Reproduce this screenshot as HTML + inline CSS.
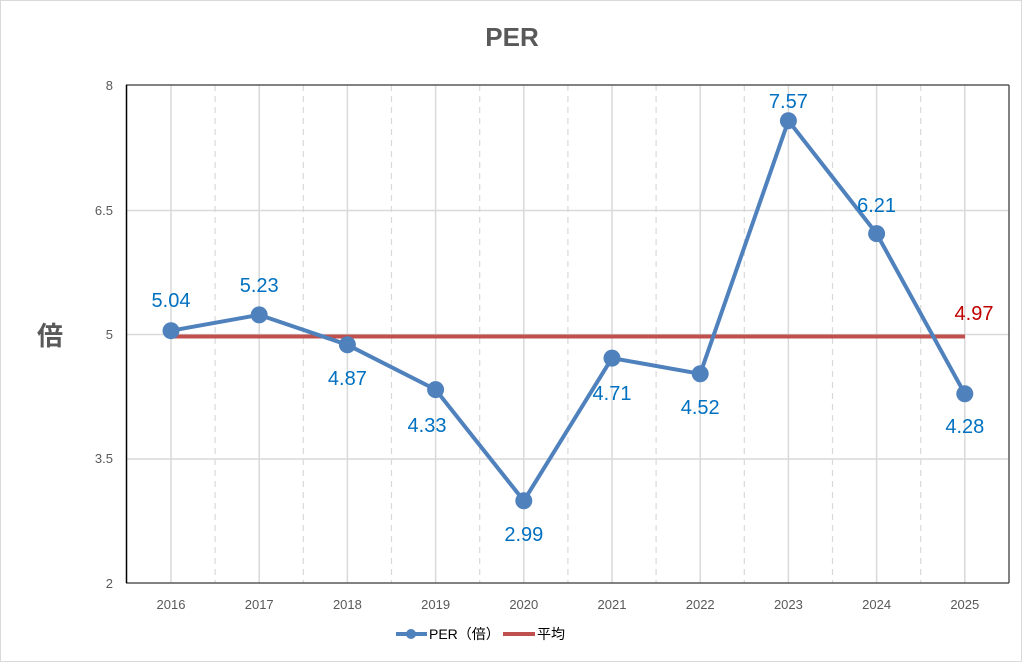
<!DOCTYPE html>
<html><head><meta charset="utf-8"><style>body{margin:0;background:#fff}svg{display:block}</style></head><body>
<svg width="1024" height="663" xmlns="http://www.w3.org/2000/svg" font-family="'Liberation Sans','Noto Sans CJK JP',sans-serif">
<rect x="0.5" y="0.5" width="1021" height="661" fill="#fff" stroke="#d9d9d9"/>
<text x="512" y="46" text-anchor="middle" font-size="26" font-weight="bold" fill="#595959">PER</text>
<g stroke="#d9d9d9" stroke-width="1.5">
<line x1="126" y1="210.5" x2="1009" y2="210.5"/><line x1="126" y1="334.5" x2="1009" y2="334.5"/><line x1="126" y1="459" x2="1009" y2="459"/>
<line x1="171" y1="85" x2="171" y2="583"/><line x1="259.2" y1="85" x2="259.2" y2="583"/><line x1="347.4" y1="85" x2="347.4" y2="583"/><line x1="435.6" y1="85" x2="435.6" y2="583"/><line x1="523.8" y1="85" x2="523.8" y2="583"/><line x1="612" y1="85" x2="612" y2="583"/><line x1="700.2" y1="85" x2="700.2" y2="583"/><line x1="788.4" y1="85" x2="788.4" y2="583"/><line x1="876.6" y1="85" x2="876.6" y2="583"/><line x1="964.8" y1="85" x2="964.8" y2="583"/>
</g>
<g stroke="#d9d9d9" stroke-width="1.2" stroke-dasharray="6,5">
<line x1="215.1" y1="85" x2="215.1" y2="583"/><line x1="303.3" y1="85" x2="303.3" y2="583"/><line x1="391.5" y1="85" x2="391.5" y2="583"/><line x1="479.7" y1="85" x2="479.7" y2="583"/><line x1="567.9" y1="85" x2="567.9" y2="583"/><line x1="656.1" y1="85" x2="656.1" y2="583"/><line x1="744.3" y1="85" x2="744.3" y2="583"/><line x1="832.5" y1="85" x2="832.5" y2="583"/><line x1="920.7" y1="85" x2="920.7" y2="583"/>
</g>
<line x1="126" y1="85" x2="1009" y2="85" stroke="#595959" stroke-width="1.5"/>
<line x1="1009" y1="85" x2="1009" y2="583" stroke="#595959" stroke-width="1.5"/>
<line x1="126" y1="583" x2="1009" y2="583" stroke="#595959" stroke-width="1.5"/>
<line x1="126.5" y1="85" x2="126.5" y2="583" stroke="#000" stroke-width="1.5"/>
<g font-size="13" fill="#595959" text-anchor="end">
<text x="113" y="90">8</text><text x="113" y="215">6.5</text><text x="113" y="339">5</text><text x="113" y="463">3.5</text><text x="113" y="588">2</text>
</g>
<text x="50" y="345" font-size="26" font-weight="bold" fill="#595959" text-anchor="middle">倍</text>
<g font-size="13" fill="#595959" text-anchor="middle">
<text x="171" y="609">2016</text><text x="259.2" y="609">2017</text><text x="347.4" y="609">2018</text><text x="435.6" y="609">2019</text><text x="523.8" y="609">2020</text><text x="612" y="609">2021</text><text x="700.2" y="609">2022</text><text x="788.4" y="609">2023</text><text x="876.6" y="609">2024</text><text x="964.8" y="609">2025</text>
</g>
<line x1="171" y1="336.5" x2="965" y2="336.5" stroke="#c0504d" stroke-width="4"/>
<polyline fill="none" stroke="#4f81bd" stroke-width="4" stroke-linejoin="round" points="171,330.7 259.2,314.9 347.4,344.8 435.6,389.6 523.8,500.8 612,358.1 700.2,373.8 788.4,120.7 876.6,233.6 964.8,393.8"/>
<g fill="#4f81bd">
<circle cx="171" cy="330.7" r="8.5"/><circle cx="259.2" cy="314.9" r="8.5"/><circle cx="347.4" cy="344.8" r="8.5"/><circle cx="435.6" cy="389.6" r="8.5"/><circle cx="523.8" cy="500.8" r="8.5"/><circle cx="612" cy="358.1" r="8.5"/><circle cx="700.2" cy="373.8" r="8.5"/><circle cx="788.4" cy="120.7" r="8.5"/><circle cx="876.6" cy="233.6" r="8.5"/><circle cx="964.8" cy="393.8" r="8.5"/>
</g>
<g font-size="20" fill="#0070c0" text-anchor="middle">
<text x="171" y="307">5.04</text><text x="259.2" y="292">5.23</text><text x="347.4" y="385">4.87</text><text x="427" y="432">4.33</text><text x="523.8" y="541">2.99</text><text x="612" y="400">4.71</text><text x="700.2" y="414">4.52</text><text x="788.4" y="108">7.57</text><text x="876.6" y="212">6.21</text><text x="964.8" y="433">4.28</text>
</g>
<text x="974" y="320" font-size="20" fill="#c00000" text-anchor="middle">4.97</text>
<line x1="396" y1="634" x2="427" y2="634" stroke="#4f81bd" stroke-width="4"/>
<circle cx="411" cy="634" r="5" fill="#4f81bd"/>
<text x="429" y="639" font-size="14" fill="#000">PER（倍）</text>
<line x1="503" y1="634" x2="535" y2="634" stroke="#c0504d" stroke-width="4"/>
<text x="537" y="639" font-size="14" fill="#000">平均</text>
</svg>
</body></html>
